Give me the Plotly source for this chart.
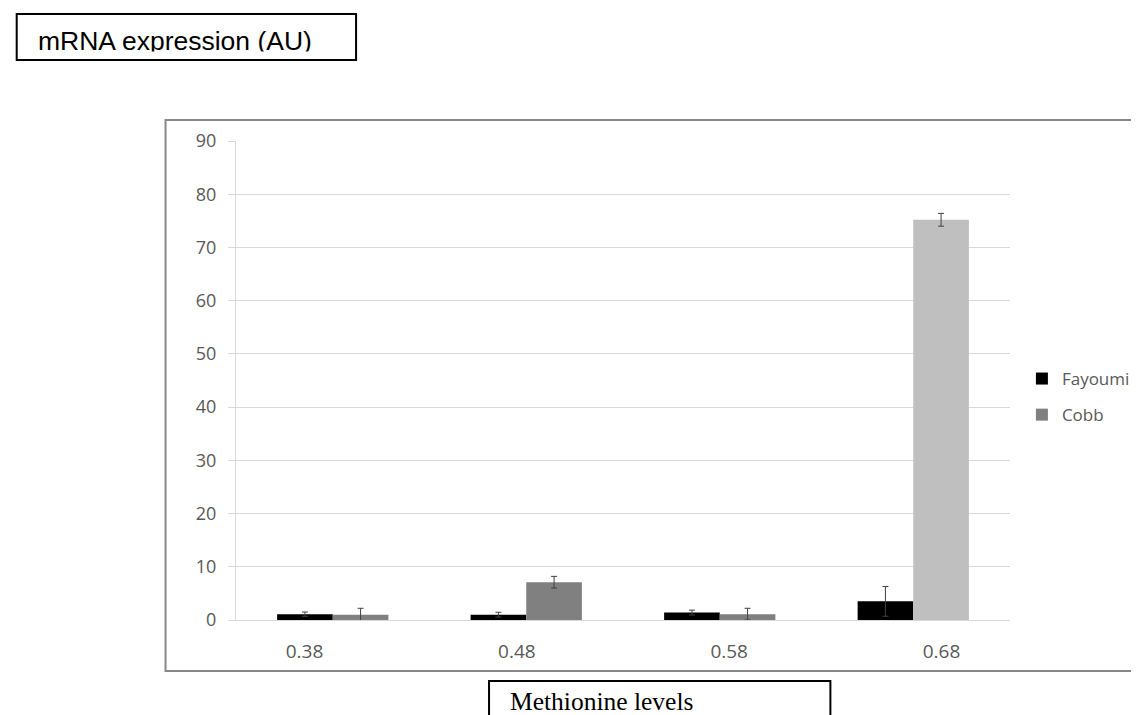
import plotly.graph_objects as go

# ---- data ----
categories = ["0.38", "0.48", "0.58", "0.68"]
fayoumi = [1.1, 1.0, 1.4, 3.5]
fayoumi_err = [0.4, 0.45, 0.45, 2.8]
cobb = [1.0, 7.1, 1.1, 75.2]
cobb_err = [1.2, 1.1, 1.1, 1.2]
cobb_colors = ["#808080", "#808080", "#808080", "#bfbfbf"]
y_ticks = list(range(0, 91, 10))
label_slots = [0, 1, 2, 3]

W, H = 1139, 715
L, R, T, B = 228, 131, 133, 103
PW, PH = W - L - R, H - T - B


def px(x):
    return (x - L) / PW


def py(y):
    return (H - B - y) / PH


TICKFONT = dict(family="Open Sans", size=18, color="#595959")

fig = go.Figure()
fig.add_trace(go.Bar(
    name="Fayoumi", x=categories, y=fayoumi, marker_color="#000000",
    marker_line_width=0, legendgroup="f",
    error_y=dict(type="data", array=fayoumi_err, color="#404040", thickness=1, width=3),
))
fig.add_trace(go.Bar(
    name="Cobb", x=categories, y=cobb, marker_color=cobb_colors,
    marker_line_width=0, legendgroup="c",
    error_y=dict(type="data", array=cobb_err, color="#404040", thickness=1, width=3),
))
# invisible helper so the label axis gets drawn
fig.add_trace(go.Scatter(
    x=label_slots, y=[0] * len(label_slots), xaxis="x2", yaxis="y",
    mode="markers", marker=dict(opacity=0, size=1), showlegend=False,
    hoverinfo="skip",
))

fig.update_layout(
    width=W, height=H, autosize=False,
    margin=dict(l=L, r=R, t=T, b=B, pad=0),
    paper_bgcolor="white", plot_bgcolor="white",
    barmode="group", bargap=0.425, bargroupgap=0,
    font=dict(family="Open Sans", color="#595959"),
    legend=dict(
        x=px(1020), y=py(353), xanchor="left", yanchor="top",
        font=dict(family="Open Sans", size=17, color="#595959"),
        traceorder="grouped", tracegroupgap=11, itemwidth=30,
        bgcolor="rgba(0,0,0,0)",
    ),
    xaxis=dict(
        type="category", categoryarray=categories, showticklabels=False,
        showline=True, linecolor="#d9d9d9", linewidth=1, ticks="",
        showgrid=False, zeroline=False,
    ),
    xaxis2=dict(
        overlaying="x", anchor="y", side="bottom", type="linear",
        range=[-(297 - L) / 214, -(297 - L) / 214 + PW / 214],
        tickvals=label_slots, ticktext=categories, ticks="",
        tickfont=dict(family="Open Sans", size=19, color="#595959"),
        ticklabelstandoff=18, showgrid=False, zeroline=False, showline=False,
    ),
    yaxis=dict(
        range=[0, 90], tickvals=y_ticks, showgrid=True, gridcolor="#d9d9d9",
        gridwidth=1, showline=True, linecolor="#d9d9d9", linewidth=1,
        ticks="outside", ticklen=7, tickcolor="#d9d9d9", tickwidth=1,
        tickfont=TICKFONT, ticklabelstandoff=8, zeroline=False,
    ),
)

shapes = [
    # chart frame
    dict(type="rect", xref="paper", yref="paper",
         x0=px(157), x1=px(1150), y0=py(663), y1=py(112),
         line=dict(color="#888888", width=2), fillcolor="rgba(0,0,0,0)", layer="below"),
    # title box
    dict(type="rect", xref="paper", yref="paper",
         x0=px(7), x1=px(349), y0=py(52), y1=py(6),
         line=dict(color="#000000", width=2), fillcolor="rgba(0,0,0,0)"),
    # x label box
    dict(type="rect", xref="paper", yref="paper",
         x0=px(483), x1=px(827), y0=py(740), y1=py(673),
         line=dict(color="#000000", width=2), fillcolor="rgba(0,0,0,0)"),
]
fig.update_layout(shapes=shapes)

annotations = [
    dict(text="mRNA expression (AU)", xref="paper", yref="paper",
         x=px(26), y=py(49.5), xanchor="left", yanchor="bottom", showarrow=False,
         font=dict(family="Liberation Sans", size=26.5, color="#000000")),
    # cover descenders (text is clipped in the original box)
    dict(text=" ", xref="paper", yref="paper",
         x=px(12), y=py(43.5), xanchor="left", yanchor="top", showarrow=False,
         width=330, height=6, bgcolor="#ffffff", borderpad=0,
         font=dict(size=4)),
    dict(text="Methionine levels", xref="paper", yref="paper",
         x=px(502), y=py(710), xanchor="left", yanchor="bottom", showarrow=False,
         font=dict(family="Liberation Serif", size=25.5, color="#000000")),
]
fig.update_layout(annotations=annotations)

fig.write_html("out.html")
